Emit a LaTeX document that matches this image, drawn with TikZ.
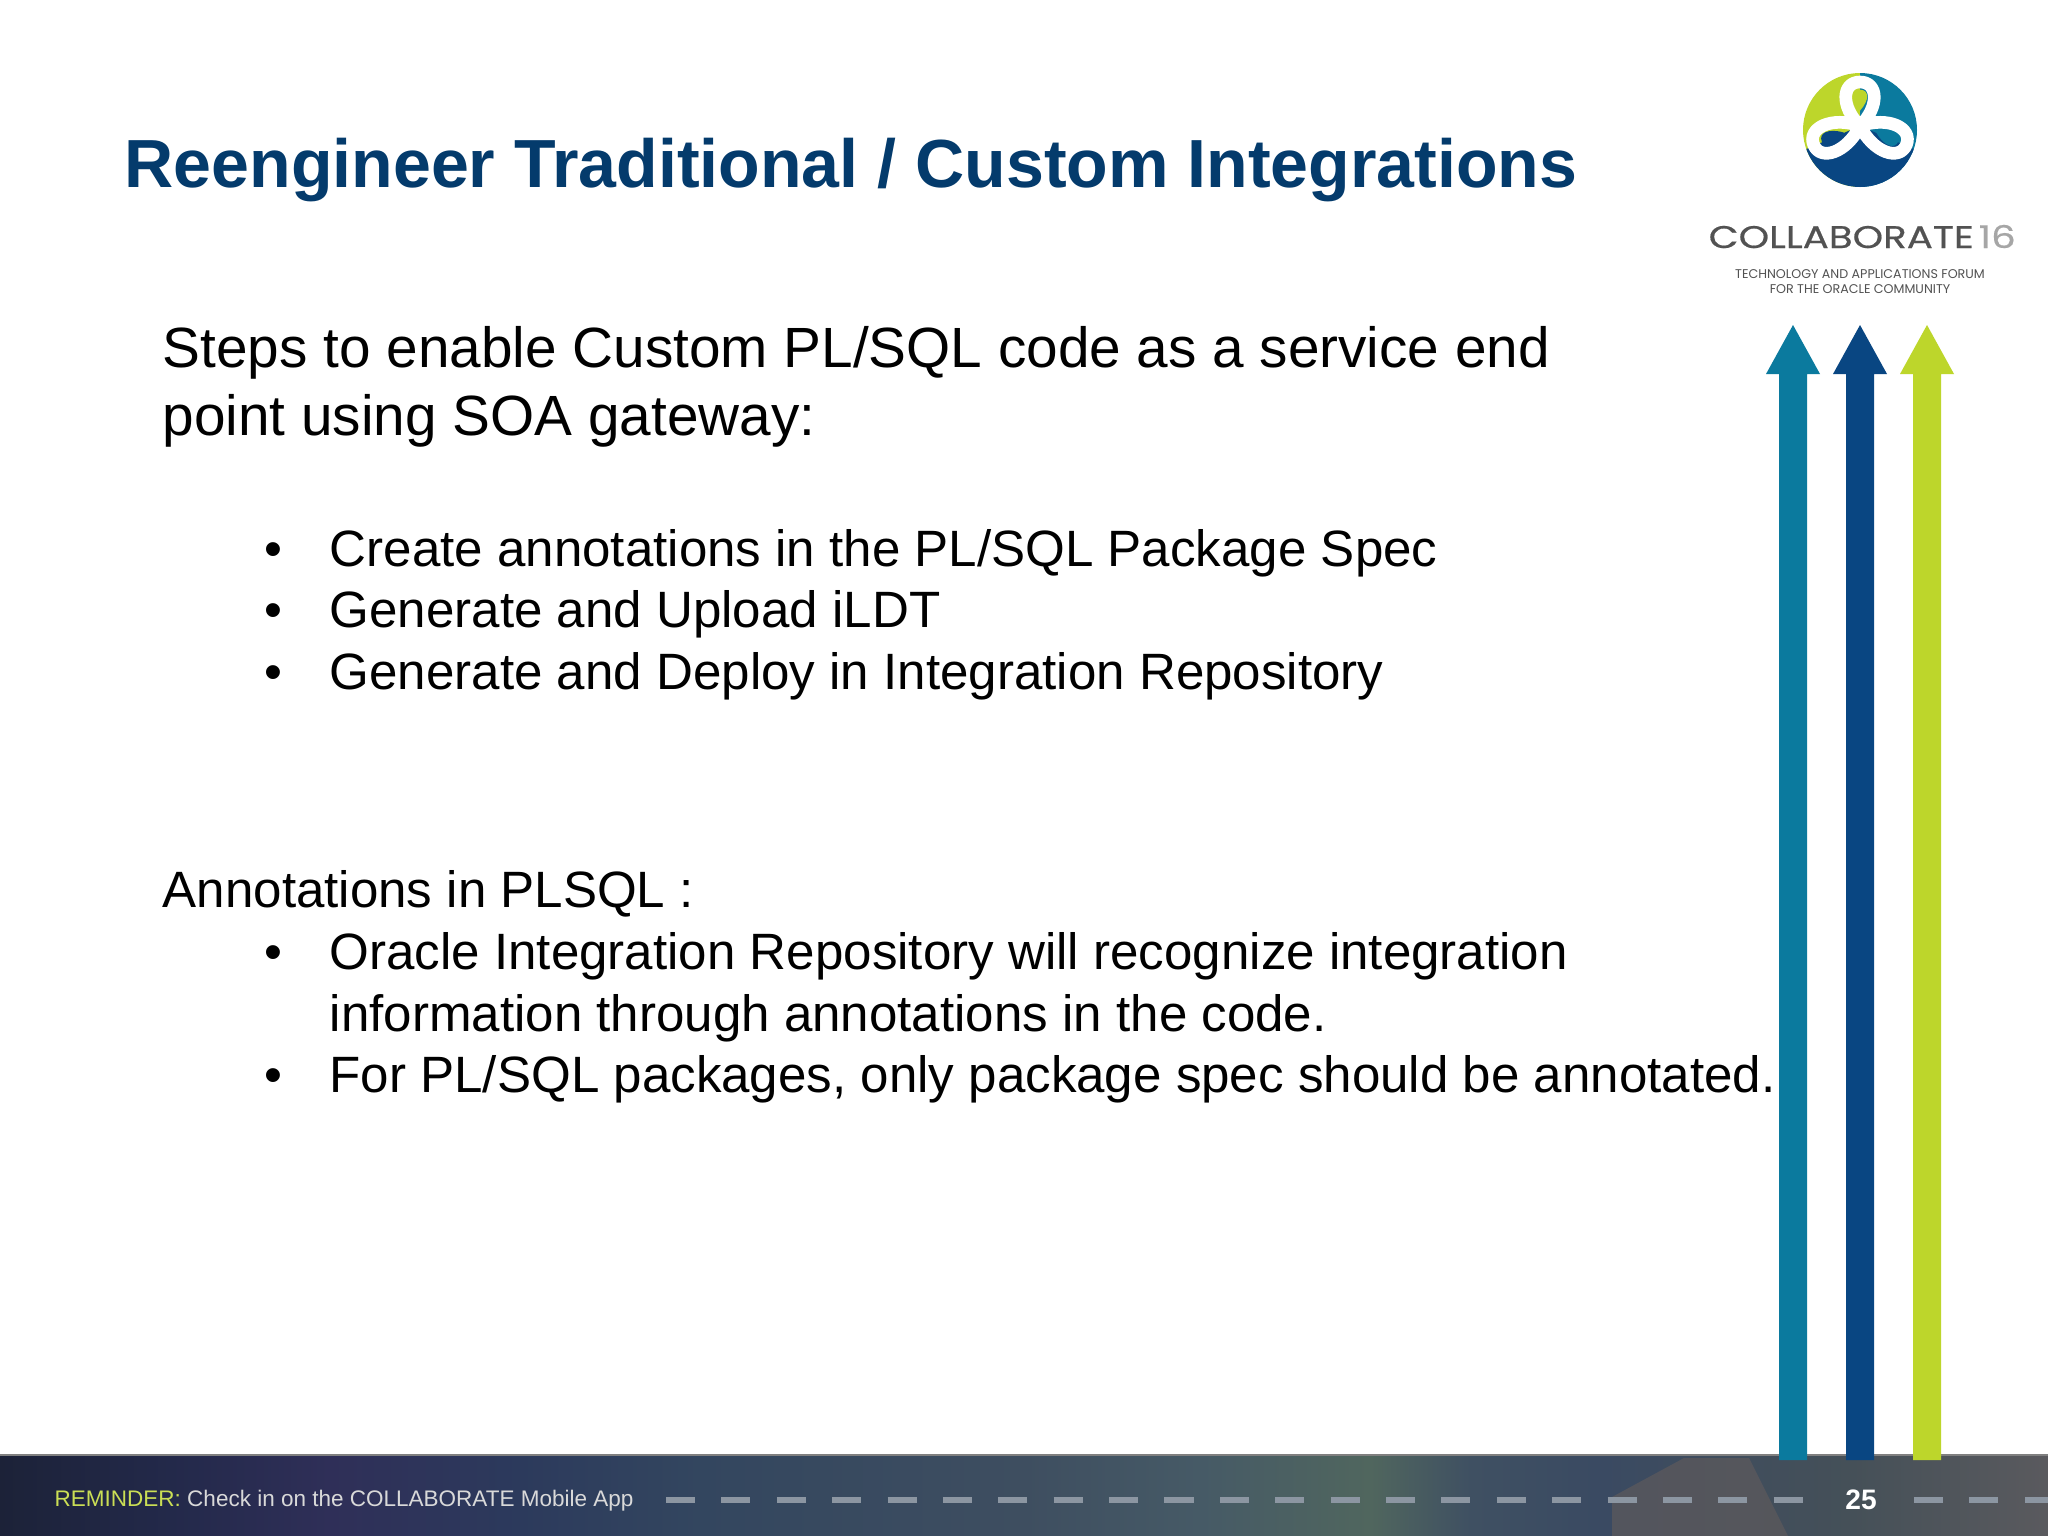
\documentclass[tikz,border=0pt]{standalone}
\usepackage{fontspec}
\setmainfont{Liberation Sans}
\newfontfamily\logofont{Poppins}
\newfontfamily\brandfont[FakeStretch=1.24,FakeBold=0.5]{Poppins}
\usepackage{xcolor}

\definecolor{titleblue}{HTML}{043B6C}
\definecolor{logoteal}{HTML}{0B7A9E}
\definecolor{logonavy}{HTML}{094682}
\definecolor{logolime}{HTML}{BDD62B}
\definecolor{dashgrey}{HTML}{8C96A2}
\definecolor{barbrown}{HTML}{5E5A5C}
\definecolor{barA}{HTML}{1C2238}
\definecolor{barB}{HTML}{23294A}
\definecolor{barC}{HTML}{2F2F58}
\definecolor{barD}{HTML}{2C3A5C}
\definecolor{barE}{HTML}{33465F}
\definecolor{barF}{HTML}{3E4E60}
\definecolor{barG}{HTML}{465A66}
\definecolor{barH}{HTML}{50665E}
\definecolor{barI}{HTML}{3F5062}
\definecolor{barJ}{HTML}{3A4A62}
\definecolor{barK}{HTML}{455058}
\definecolor{barL}{HTML}{5A5A5E}

\pgfdeclarehorizontalshading{footbar}{100bp}{
  color(0bp)=(barA); color(25bp)=(barA); color(29.15bp)=(barB); color(33.06bp)=(barC);
  color(37.7bp)=(barD); color(42.1bp)=(barE); color(50bp)=(barF); color(54.3bp)=(barG);
  color(58.45bp)=(barH); color(60.9bp)=(barI); color(64.06bp)=(barJ); color(70.2bp)=(barK);
  color(75bp)=(barL); color(100bp)=(barL)}

\begin{document}
\begin{tikzpicture}[x=0.01cm,y=-0.01cm]
  \tikzstyle{title}=[anchor=base west,inner sep=0,text=titleblue,font=\fontsize{19.36}{23}\selectfont\bfseries]
  \tikzstyle{lead}=[anchor=base west,inner sep=0,text=black,font=\fontsize{16.13}{19.3}\selectfont]
  \tikzstyle{item}=[anchor=base west,inner sep=0,text=black,align=left,font=\fontsize{14.53}{17.5}\selectfont]
  \tikzstyle{dot}=[item]
  \tikzstyle{logotext}=[anchor=base,inner sep=0,text=black!68]
  \tikzstyle{dashes}=[dashgrey,line width=1.7pt,dash pattern=on 8.25pt off 7.5pt]

  \useasboundingbox (0,0) rectangle (2048,1536);
  \fill[white] (0,0) rectangle (2048,1536);

  % footer bar
  \fill[shading=footbar] (0,1455) rectangle (2048,1536);
  \fill[barbrown,opacity=0.7] (1612,1536) -- (1612,1497) -- (1684,1458) -- (1749,1458) -- (1788,1536) -- cycle;
  \draw[black!50,line width=0.5pt] (0,1455) -- (2048,1455);
  \draw[dashes] (666,1500) -- (1808,1500);
  \draw[dashes] (1914,1500) -- (2048,1500);

  % arrows
  \foreach \ax/\acol in {1793/logoteal,1860/logonavy,1927/logolime}
    \fill[\acol] (\ax,325) -- ++(27,49) -- ++(-13,0) -- ++(0,1086) -- ++(-28,0) -- ++(0,-1086) -- ++(-13,0) -- cycle;

  % logo
  \begin{scope}
    \clip (1860,130) circle[radius=57];
    \fill[logolime] (1800,70) rectangle (1860,190);
    \fill[logoteal] (1860,70) rectangle (1920,190);
    \fill[logonavy] (1860,126) -- (1790,156) -- (1790,190) -- (1930,190) -- (1930,156) -- cycle;
    \foreach \lang/\llen/\lcol in {0/44/logolime,112/50/logonavy,-112/50/logoteal} {
      \begin{scope}[shift={(1860,126)},rotate=\lang,yscale=\llen/40]
        \draw[white,line width=3.6pt,line join=round] (0,0) .. controls (-20,-18) and (-18,-40) .. (0,-40)
          .. controls (18,-40) and (20,-18) .. (0,0) -- cycle;
        \fill[\lcol] (0,-14) .. controls (-10,-24) and (-9,-33) .. (0,-33)
          .. controls (9,-33) and (10,-24) .. (0,-14) -- cycle;
      \end{scope}
    }
  \end{scope}

  \node[logotext,anchor=base west,font=\brandfont\fontsize{8.9}{10}\selectfont] (brand) at (1708,248) {COLLABORATE};
  \node[logotext,anchor=base west,text=black!35,font=\brandfont\fontsize{8.9}{10}\selectfont] (year) at (1978,248) {16};
  \node[logotext,font=\logofont\fontsize{3.6}{4}\selectfont] (forumA) at (1860,278) {TECHNOLOGY AND APPLICATIONS FORUM};
  \node[logotext,font=\logofont\fontsize{3.6}{4}\selectfont] (forumB) at (1860,293) {FOR THE ORACLE COMMUNITY};

  % texts
  \node[title] (head) at (124,187.5) {Reengineer Traditional / Custom Integrations};
  \node[lead]  (stepsA) at (162,367) {Steps to enable Custom PL/SQL code as a service end};
  \node[lead]  (stepsB) at (162,435) {point using SOA gateway:};

  \node[dot]  (d1) at (264,566) {•};
  \node[item] (i1) at (329,566) {Create annotations in the PL/SQL Package Spec};
  \node[dot]  (d2) at (264,627) {•};
  \node[item] (i2) at (329,627) {Generate and Upload iLDT};
  \node[dot]  (d3) at (264,689) {•};
  \node[item] (i3) at (329,689) {Generate and Deploy in Integration Repository};

  \node[item] (notes) at (162,907) {Annotations in PLSQL :};
  \node[dot]  (d4) at (264,969) {•};
  \node[item] (i4) at (329,1031) {Oracle Integration Repository will recognize integration\\information through annotations in the code.};
  \node[dot]  (d5) at (264,1092) {•};
  \node[item] (i5) at (329,1092) {For PL/SQL packages, only package spec should be annotated.};

  % footer texts
  \node[anchor=base west,inner sep=0,text=black!15,font=\fontsize{6.4}{8}\selectfont] (remind) at (54,1506)
    {\textcolor{logolime!80!white}{REMINDER:} Check in on the COLLABORATE Mobile App};
  \node[anchor=base,inner sep=0,text=white,font=\fontsize{8}{10}\selectfont\bfseries] (page) at (1861,1509) {25};
\end{tikzpicture}
\end{document}
